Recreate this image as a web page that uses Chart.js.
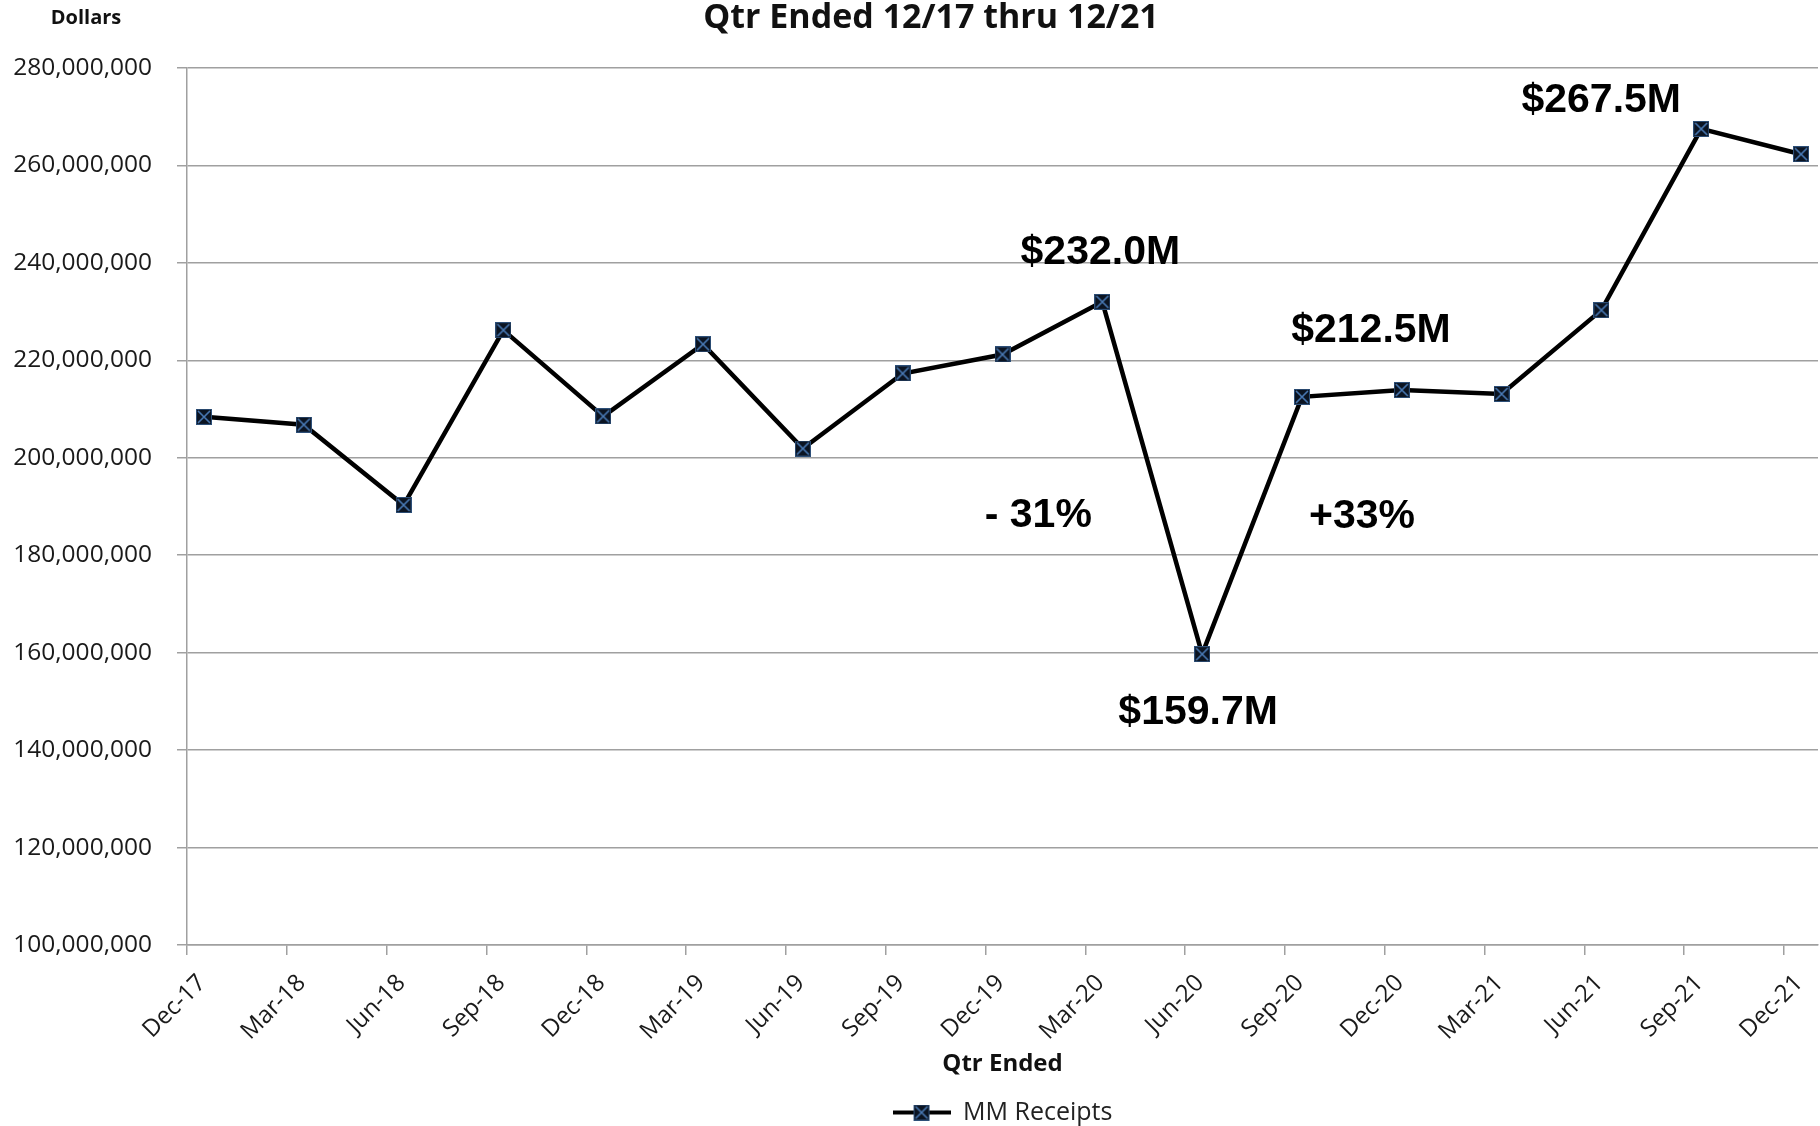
<!DOCTYPE html>
<html lang="en">
<head>
  <meta charset="UTF-8">
  <title>MM Receipts - Qtr Ended 12/17 thru 12/21</title>
  <script src="https://cdn.jsdelivr.net/npm/chart.js@4.4.0/dist/chart.umd.min.js"></script>
  <style>
    html, body {
      margin: 0;
      padding: 0;
      background: #fff;
      overflow: hidden;
    }
    #wrap {
      width: 1820px;
      height: 1135px;
    }
  </style>
</head>
<body>
  <div id="wrap"><canvas id="receiptsChart" width="1820" height="1135"></canvas></div>
  <script>
    // quarter labels on the x axis
    const quarters = [
      'Dec-17', 'Mar-18', 'Jun-18', 'Sep-18', 'Dec-18', 'Mar-19', 'Jun-19', 'Sep-19',
      'Dec-19', 'Mar-20', 'Jun-20', 'Sep-20', 'Dec-20', 'Mar-21', 'Jun-21', 'Sep-21', 'Dec-21'
    ];

    // MM Receipts, dollars
    const receipts = [
      208400000, 206800000, 190300000, 226200000, 208500000, 223300000, 201900000, 217300000,
      221200000, 232000000, 159700000, 212500000, 213900000, 213100000, 230300000, 267500000, 262300000
    ];

    // y axis ticks
    const yTicks = [
      100000000, 120000000, 140000000, 160000000, 180000000,
      200000000, 220000000, 240000000, 260000000, 280000000
    ];

    // callout texts, hung off a data point
    const callouts = [
      { text: '$232.0M', at: 9 },
      { text: '$159.7M', at: 10 },
      { text: '$212.5M', at: 11 },
      { text: '$267.5M', at: 15 },
      { text: '- 31%', at: 9 },
      { text: '+33%', at: 11 }
    ];
    // pixel offsets of each callout (centre x, baseline y) from its point
    const calloutOffsets = [[-2, -38], [-4, 70], [69, -55], [-100, -17], [-64, 225], [60, 131]];

    // excel plots the quarter-end dates a bit right of the month tick
    const pointShift = 0.17;

    function makeMarker(size) {
      const c = document.createElement('canvas');
      c.width = c.height = size;
      const g = c.getContext('2d');
      g.fillStyle = '#0b1422';
      g.fillRect(0, 0, size, size);
      g.strokeStyle = '#2d4f78';
      g.lineWidth = 1;
      g.strokeRect(0.5, 0.5, size - 1, size - 1);
      g.strokeStyle = '#4a7bb7';
      g.lineWidth = 1.6;
      g.beginPath();
      g.moveTo(2, 2); g.lineTo(size - 2, size - 2);
      g.moveTo(size - 2, 2); g.lineTo(2, size - 2);
      g.stroke();
      return c;
    }

    const marker = makeMarker(16);

    function makeLegendIcon() {
      const c = document.createElement('canvas');
      c.width = 58; c.height = 16;
      const g = c.getContext('2d');
      g.strokeStyle = '#000';
      g.lineWidth = 4;
      g.beginPath(); g.moveTo(0, 8); g.lineTo(58, 8); g.stroke();
      g.drawImage(marker, 29 - 8, 0);
      return c;
    }

    const legendIcon = makeLegendIcon();

    const headerPlugin = {
      id: 'header',
      afterDraw(chart) {
        const ctx = chart.ctx;
        ctx.save();
        ctx.fillStyle = '#111';
        ctx.textAlign = 'center';
        ctx.textBaseline = 'middle';
        ctx.font = 'bold 34px "Open Sans", sans-serif';
        ctx.fillText('Qtr Ended 12/17 thru 12/21', 931, 18);
        ctx.font = 'bold 20px "Open Sans", sans-serif';
        ctx.fillText('Dollars', 86, 18);
        ctx.restore();
      }
    };

    const calloutPlugin = {
      id: 'callouts',
      afterDatasetsDraw(chart) {
        const pts = chart.getDatasetMeta(0).data;
        const ctx = chart.ctx;
        ctx.save();
        ctx.font = 'bold 41px "Liberation Sans", Arial, sans-serif';
        ctx.fillStyle = '#000';
        ctx.textAlign = 'center';
        ctx.textBaseline = 'alphabetic';
        callouts.forEach((c, i) => {
          const p = pts[c.at];
          ctx.fillText(c.text, p.x + calloutOffsets[i][0], p.y + calloutOffsets[i][1]);
        });
        ctx.restore();
      }
    };

    const axisGray = '#a0a0a0';

    new Chart(document.getElementById('receiptsChart'), {
      type: 'line',
      data: {
        datasets: [{
          label: 'MM Receipts',
          data: receipts.map((v, i) => ({ x: i + pointShift, y: v })),
          borderColor: '#000',
          borderWidth: 4.5,
          pointStyle: marker,
          pointRadius: 8,
          tension: 0,
          fill: false
        }]
      },
      options: {
        responsive: false,
        animation: false,
        layout: {
          autoPadding: false,
          padding: { left: 0, right: 2, top: 68, bottom: 0 }
        },
        plugins: {
          title: { display: false },
          tooltip: { enabled: false },
          legend: {
            position: 'bottom',
            fullSize: false,
            labels: {
              usePointStyle: true,
              pointStyleWidth: 58,
              padding: 10,
              color: '#222',
              font: { family: 'Open Sans', size: 25 },
              generateLabels: () => [{
                text: 'MM Receipts',
                pointStyle: legendIcon,
                fillStyle: '#000',
                strokeStyle: '#000',
                lineWidth: 0,
                fontColor: '#222',
                hidden: false,
                datasetIndex: 0
              }]
            }
          }
        },
        scales: {
          x: {
            type: 'linear',
            min: 0,
            max: 16.34,
            afterBuildTicks: s => { s.ticks = quarters.map((q, i) => ({ value: i })); },
            afterFit: s => {
              s.height = 145;
              s.paddingLeft = 0;
              s.paddingRight = 0;
            },
            ticks: {
              autoSkip: false,
              minRotation: 45,
              maxRotation: 45,
              labelOffset: 15,
              padding: 14,
              color: '#1a1a1a',
              font: { family: 'Open Sans', size: 24 },
              callback: v => quarters[v]
            },
            grid: {
              drawOnChartArea: false,
              drawTicks: true,
              tickLength: 10,
              color: axisGray,
              lineWidth: 1.5
            },
            border: { color: axisGray, width: 1.5 },
            title: {
              display: true,
              text: 'Qtr Ended',
              color: '#111',
              font: { family: 'Open Sans', size: 24, weight: 'bold' },
              padding: { top: 0, bottom: 11 }
            }
          },
          y: {
            min: 100000000,
            max: 280000000,
            afterBuildTicks: s => { s.ticks = yTicks.map(v => ({ value: v })); },
            afterFit: s => { s.width = 187; },
            ticks: {
              padding: 25,
              color: '#1a1a1a',
              font: { family: 'Open Sans', size: 24.5 },
              callback: v => v.toLocaleString('en-US')
            },
            grid: {
              color: axisGray,
              lineWidth: 1.5,
              tickLength: 10
            },
            border: { color: axisGray, width: 1.5 }
          }
        }
      },
      plugins: [headerPlugin, calloutPlugin]
    });
  </script>
</body>
</html>
